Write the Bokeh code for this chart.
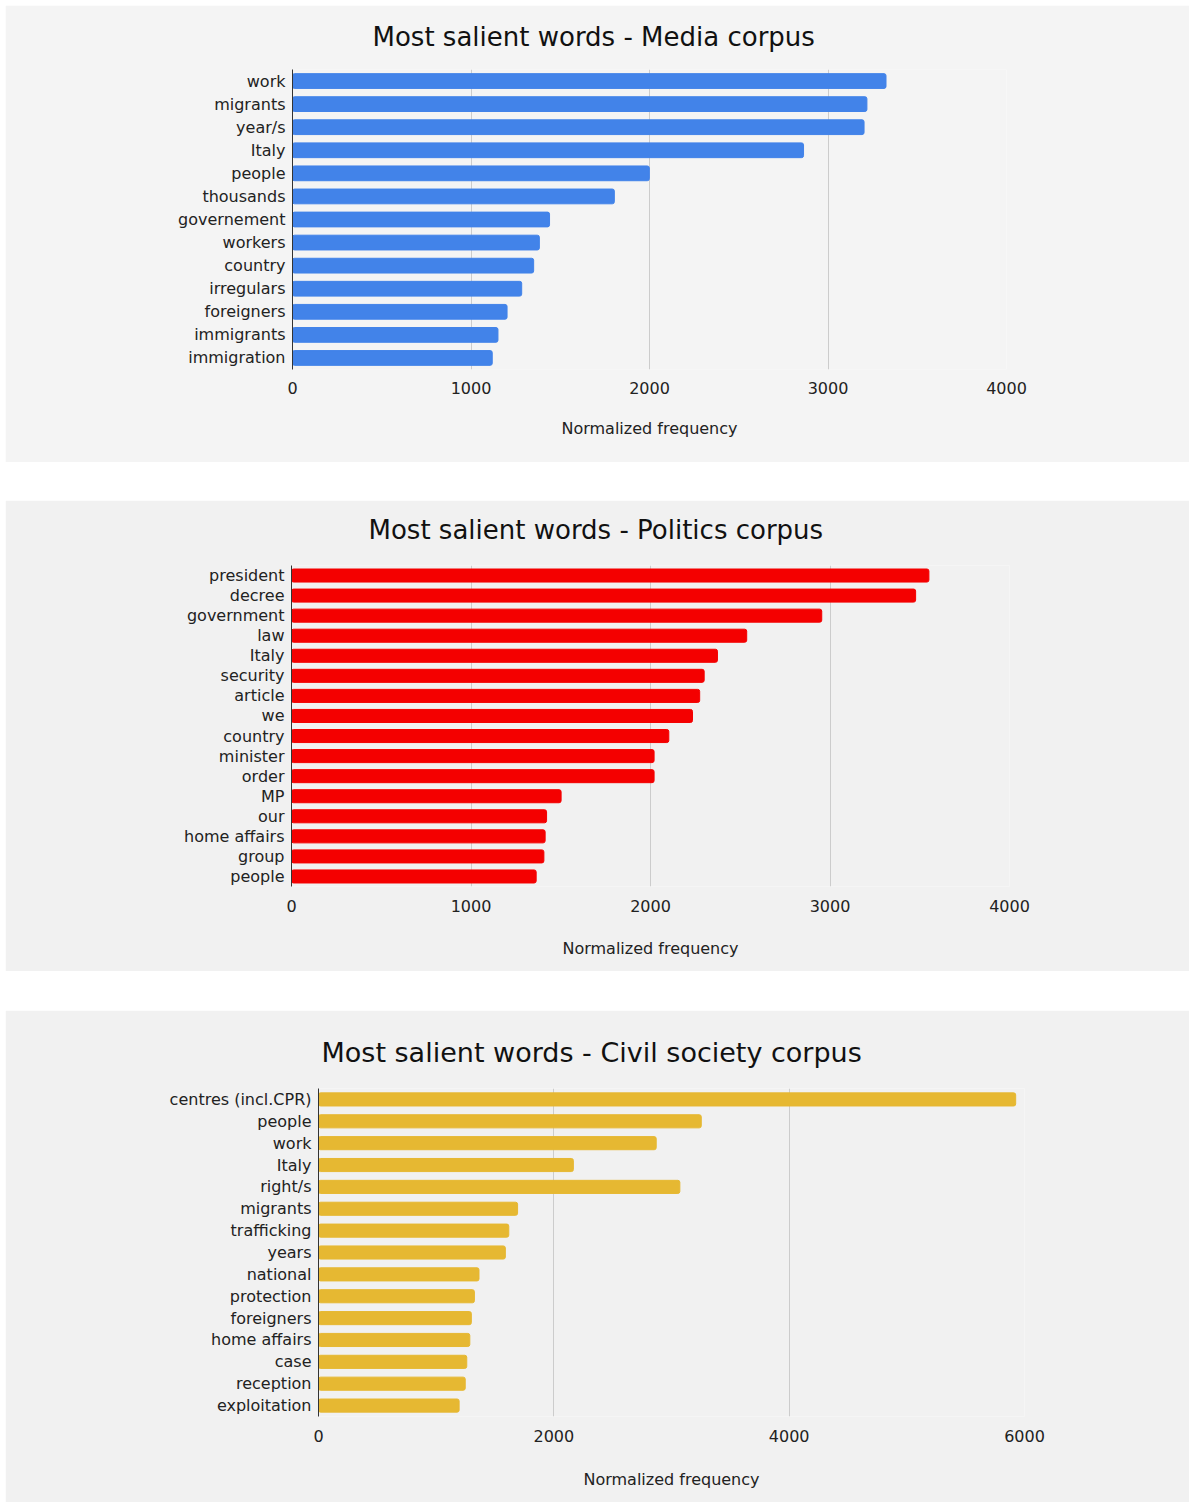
from bokeh.plotting import figure
from bokeh.layouts import column, row
from bokeh.models import Spacer, FactorRange, Range1d, FixedTicker, ColumnDataSource, Title
from bokeh.embed import file_html
from bokeh.resources import INLINE

# ---------------- data ----------------
media_words = ["work", "migrants", "year/s", "Italy", "people", "thousands",
               "governement", "workers", "country", "irregulars", "foreigners",
               "immigrants", "immigration"]
media_values = [3325, 3218, 3202, 2863, 1999, 1803, 1440, 1383, 1351, 1284, 1202, 1151, 1119]

politics_words = ["president", "decree", "government", "law", "Italy", "security",
                  "article", "we", "country", "minister", "order", "MP", "our",
                  "home affairs", "group", "people"]
politics_values = [3551, 3477, 2954, 2536, 2373, 2299, 2274, 2234, 2102, 2020, 2020,
                   1502, 1421, 1413, 1406, 1363]

civil_words = ["centres (incl.CPR)", "people", "work", "Italy", "right/s", "migrants",
               "trafficking", "years", "national", "protection", "foreigners",
               "home affairs", "case", "reception", "exploitation"]
civil_values = [5925, 3253, 2870, 2166, 3071, 1692, 1617, 1588, 1364, 1325, 1299,
                1286, 1260, 1247, 1195]

media_ticks = [0, 1000, 2000, 3000, 4000]
politics_ticks = [0, 1000, 2000, 3000, 4000]
civil_ticks = [0, 2000, 4000, 6000]

titles = ["Most salient words - Media corpus",
          "Most salient words - Politics corpus",
          "Most salient words - Civil society corpus"]
x_label = "Normalized frequency"

FONT = "DejaVu Sans"
TEXT = "#222222"


def make(words, values, color, title, xmax, ticks, height, bl, br, bt, bb,
         title_offset, title_size, gap, bg, tick_standoff, label_standoff, bar_h):
    src = ColumnDataSource(dict(word=words, value=values))
    p = figure(width=1184, height=height,
               y_range=FactorRange(factors=list(reversed(words)), range_padding=0),
               x_range=Range1d(0, xmax),
               output_backend="svg", toolbar_location=None,
               min_border_left=bl, min_border_right=br,
               min_border_top=bt, min_border_bottom=bb)
    try:
        p.frame_align = False
    except AttributeError:
        pass
    p.hbar(y="word", right="value", left=0, height=bar_h, source=src,
           fill_color=color, line_color=color, border_radius=2)

    p.background_fill_color = bg
    p.border_fill_color = bg
    p.outline_line_color = None

    # blank panel between the title and the plot area
    p.add_layout(Title(text=" ", text_font_size="1px", standoff=gap), "above")

    p.title.text = title
    p.title.align = "left"
    p.title.offset = title_offset
    p.title.text_font = FONT
    p.title.text_font_size = title_size
    p.title.text_font_style = "normal"
    p.title.text_color = "#111111"
    p.title.standoff = 0

    p.xgrid.grid_line_color = "#cccccc"
    p.xgrid.grid_line_width = 1
    p.ygrid.grid_line_color = None

    p.xaxis.ticker = FixedTicker(ticks=ticks)
    p.xaxis.axis_line_color = None
    p.xaxis.major_tick_line_color = None
    p.xaxis.minor_tick_line_color = None
    p.xaxis.major_tick_out = 0
    p.xaxis.major_tick_in = 0
    p.xaxis.major_label_standoff = tick_standoff
    p.xaxis.major_label_text_font = FONT
    p.xaxis.major_label_text_font_size = "16px"
    p.xaxis.major_label_text_color = TEXT
    p.xaxis.axis_label = x_label
    p.xaxis.axis_label_text_font = FONT
    p.xaxis.axis_label_text_font_size = "16px"
    p.xaxis.axis_label_text_font_style = "normal"
    p.xaxis.axis_label_text_color = TEXT
    p.xaxis.axis_label_standoff = label_standoff

    p.yaxis.axis_line_color = "#333333"
    p.yaxis.axis_line_width = 1
    p.yaxis.major_tick_line_color = None
    p.yaxis.minor_tick_line_color = None
    p.yaxis.major_tick_out = 0
    p.yaxis.major_tick_in = 0
    p.yaxis.major_label_standoff = 7
    p.yaxis.major_label_text_font = FONT
    p.yaxis.major_label_text_font_size = "16px"
    p.yaxis.major_label_text_color = TEXT
    return p


p1 = make(media_words, media_values, "#4283e9", titles[0], 4000, media_ticks,
          457, 287, 183, 64, 93, 80, "26px", 15, "#f4f4f4", 12, 22, 0.64)
p2 = make(politics_words, politics_values, "#f40000", titles[1], 4000, politics_ticks,
          471, 286, 180, 65, 85, 77, "26px", 18, "#f1f1f1", 13, 24, 0.65)
p3 = make(civil_words, civil_values, "#e6b832", titles[2], 6000, civil_ticks,
          492, 313, 165, 78, 86, 3, "27px", 18, "#f1f1f1", 13, 25, 0.6)

stack = column(Spacer(height=5), p1, Spacer(height=38), p2, Spacer(height=39), p3, spacing=0)
layout = row(Spacer(width=5), stack, spacing=0)

open("out.html", "w").write(file_html(layout, INLINE))
